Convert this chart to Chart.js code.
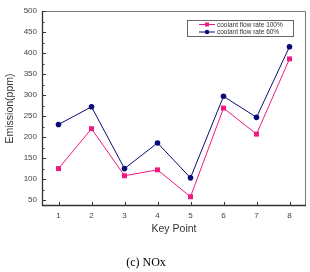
<!DOCTYPE html>
<html>
<head>
<meta charset="utf-8">
<script src="https://cdn.jsdelivr.net/npm/chart.js@4"></script>
<style>
  body { margin: 0; background: #fff; }
  #wrap { width: 310px; height: 272px; position: relative; }
</style>
</head>
<body>
<div id="wrap"><canvas id="Chart1"></canvas></div>
<script>
// NOx emission at each key point
const keyPoints = ['1', '2', '3', '4', '5', '6', '7', '8'];
const flow100 = [125, 220, 108, 122, 58, 269, 207, 386];
const flow60 = [230, 272, 125, 186, 103, 297, 247, 415];
const yTickValues = [50, 100, 150, 200, 250, 300, 350, 400, 450, 500];
const yMinorValues = [75, 125, 175, 225, 275, 325, 375, 425, 475];

const pink = '#ee1a82';
const navy = '#0b0b78';

// frame, inward ticks, boxed legend and caption
const extras = {
    id: 'extras',
    afterDraw(chart) {
        const c = chart.ctx;
        const a = chart.chartArea;
        const xs = chart.scales.x;
        const ys = chart.scales.y;
        c.save();
        c.lineWidth = 1;
        c.strokeStyle = '#7a7a7a';
        c.beginPath();
        c.moveTo(a.left, a.top + 0.5);
        c.lineTo(a.right - 0.5, a.top + 0.5);
        c.lineTo(a.right - 0.5, a.bottom);
        c.stroke();
        c.strokeStyle = '#333';
        c.lineWidth = 1.3;
        c.beginPath();
        c.moveTo(a.left + 0.5, a.top);
        c.lineTo(a.left + 0.5, a.bottom - 0.5);
        c.lineTo(a.right, a.bottom - 0.5);
        c.stroke();

        c.lineWidth = 1;
        c.beginPath();
        xs.ticks.forEach((t, i) => {
            const px = Math.round(xs.getPixelForTick(i)) + 0.5;
            c.moveTo(px, a.bottom);
            c.lineTo(px, a.bottom - 4);
        });
        yTickValues.forEach(v => {
            const py = Math.round(ys.getPixelForValue(v)) + 0.5;
            c.moveTo(a.left, py);
            c.lineTo(a.left + 4, py);
        });
        yMinorValues.forEach(v => {
            const py = Math.round(ys.getPixelForValue(v)) + 0.5;
            c.moveTo(a.left, py);
            c.lineTo(a.left + 2.5, py);
        });
        c.stroke();

        // legend box
        const lx = 187, ly = 20, lw = 106, lh = 16;
        c.strokeStyle = '#666';
        c.lineWidth = 1;
        c.strokeRect(lx + 0.5, ly + 0.5, lw, lh);
        chart.data.datasets.forEach((ds, i) => {
            const ry = ly + 4.5 + i * 7.5;
            c.strokeStyle = ds.borderColor;
            c.beginPath();
            c.moveTo(lx + 12, ry);
            c.lineTo(lx + 28, ry);
            c.stroke();
            c.fillStyle = ds.borderColor;
            if (ds.pointStyle === 'rect') {
                c.fillRect(lx + 18, ry - 2, 4, 4);
            } else {
                c.beginPath();
                c.arc(lx + 20, ry, 2.2, 0, Math.PI * 2);
                c.fill();
            }
            c.fillStyle = '#333';
            c.font = '6.5px "Liberation Sans"';
            c.textBaseline = 'middle';
            c.textAlign = 'left';
            c.fillText(ds.label, lx + 30, ry + 0.5);
        });

        // caption
        c.fillStyle = '#000';
        c.font = '12px "Liberation Serif"';
        c.textAlign = 'center';
        c.textBaseline = 'middle';
        c.fillText('(c) NOx', 146, 263);
        c.restore();
    }
};

const ctx1 = document.getElementById('Chart1');
const myChart1 = new Chart(ctx1, {
    type: 'line',
    data: {
        labels: keyPoints,
        datasets: [{
            label: 'coolant flow rate 100%',
            data: flow100,
            borderColor: pink,
            backgroundColor: pink,
            borderWidth: 1,
            pointStyle: 'rect',
            pointRadius: 3.5,
            pointBorderWidth: 0,
            tension: 0
        },
            {
                label: 'coolant flow rate 60%',
                data: flow60,
                borderColor: navy,
                backgroundColor: navy,
                borderWidth: 1,
                pointStyle: 'circle',
                pointRadius: 2.8,
                pointBorderWidth: 0,
                tension: 0
            }
        ]
    },
    options: {
        responsive: true,
        maintainAspectRatio: false,
        animation: false,
        layout: {
            padding: { top: 11, right: 2, bottom: 24, left: 0 }
        },
        scales: {
            x: {
                offset: true,
                grid: { display: false, drawTicks: false },
                border: { display: false },
                ticks: {
                    padding: 5,
                    color: '#444',
                    font: { family: 'Liberation Sans', size: 8 }
                },
                title: {
                    display: true,
                    text: 'Key Point',
                    color: '#333',
                    font: { family: 'Liberation Sans', size: 10.5 },
                    padding: { top: 0, bottom: 13 }
                },
                afterFit(scale) { scale.height = 42; }
            },
            y: {
                min: 36,
                max: 500,
                grid: { display: false, drawTicks: false },
                border: { display: false },
                afterBuildTicks(scale) {
                    scale.ticks = yTickValues.map(v => ({ value: v }));
                },
                ticks: {
                    padding: 5,
                    color: '#444',
                    font: { family: 'Liberation Sans', size: 8 }
                },
                title: {
                    display: true,
                    text: 'Emission(ppm)',
                    color: '#333',
                    font: { family: 'Liberation Sans', size: 10.5 },
                    padding: { top: 4, bottom: 0 }
                },
                afterFit(scale) { scale.width = 42; }
            }
        },
        plugins: {
            legend: { display: false },
            tooltip: { enabled: false }
        }
    },
    plugins: [extras]
});
</script>
</body>
</html>
